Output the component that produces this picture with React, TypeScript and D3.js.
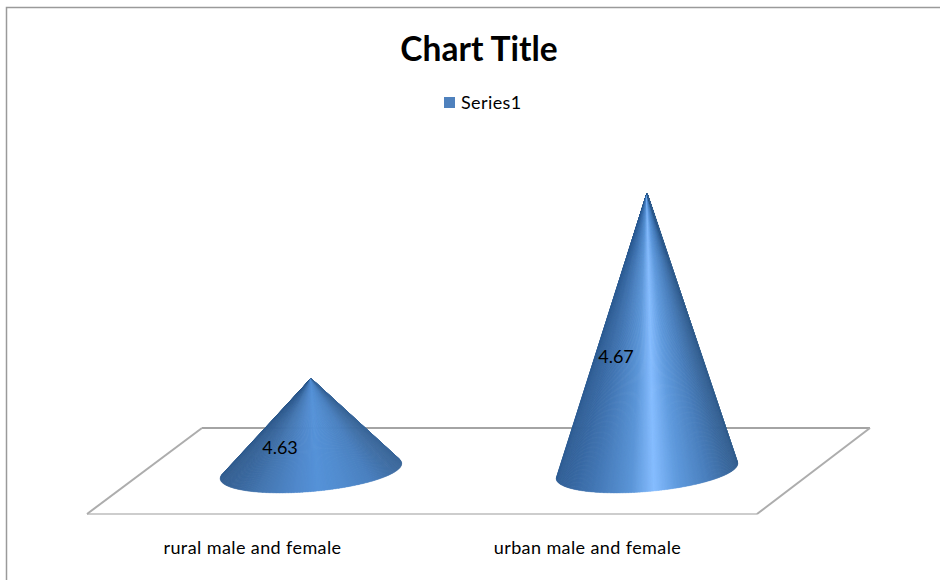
import * as d3 from "d3";

const categories = ["rural male and female", "urban male and female"];
const values = [4.63, 4.67];
const valueLabels = ["4.63", "4.67"];
const seriesName = "Series1";
const chartTitle = "Chart Title";

const W = 940;
const H = 580;
const FONT = "Lato, Carlito, 'Open Sans', sans-serif";

// floor of the 3d plot
const floorPath = { fl: 87, fr: 757, bl: 202, br: 870, front: 514, back: 428 };
const baseY = 471;

// cone base is a tilted ellipse
const rx = 91;
const ry = 20.5;
const tilt = (-5 * Math.PI) / 180;

const xScale = d3.scaleBand<string>().domain(categories).range([143, 815]);
const xFront = d3.scaleBand<string>().domain(categories).range([85, 755]);
const yScale = d3.scaleLinear().domain([4.61, 4.67]).range([baseY, 193]);

// shading around the cone, -1 is the left edge and 1 the right edge
const shadeStops = [-1, -0.6, -0.2, 0.05, 0.3, 0.65, 1];
const shadeColors = [
  ["#345f92", "#4476b0", "#5088cb", "#5592d8", "#528dd0", "#4a80bf", "#3a6699"],
  ["#315f96", "#4478b6", "#5c96d8", "#86bdff", "#619cdf", "#4a7fbd", "#345f90"],
];

const coneSlices = (cx: number, apexY: number, colorIdx: number) => {
  const color = d3
    .scaleLinear<string>()
    .domain(shadeStops)
    .range(shadeColors[colorIdx])
    .interpolate(d3.interpolateRgb);
  const line = d3.line();
  const step = (2 * Math.PI) / 360;
  // only the part facing us, out to where the side meets the rim
  const over = Math.asin(ry / (baseY - apexY));
  const pt = (a: number): [number, number] => [
    cx + rx * Math.cos(a) * Math.cos(tilt) - ry * Math.sin(a) * Math.sin(tilt),
    baseY + rx * Math.cos(a) * Math.sin(tilt) + ry * Math.sin(a) * Math.cos(tilt),
  ];
  return d3.range(Math.PI + over, -over, -step).map((t) => ({
    d: line([[cx, apexY], pt(t), pt(Math.max(t - step * 1.6, -over))]) + "Z",
    fill: color(Math.cos(t)),
  }));
};

export default function App() {
  const f = floorPath;
  return (
    <svg
      width={W}
      height={H}
      style={{ position: "absolute", left: 0, top: 0, display: "block" }}
      fontFamily={FONT}
    >
      <rect x={0} y={0} width={W} height={H} fill="#ffffff" />
      <path d={`M6.5,${H}V7.5H${W}`} fill="none" stroke="#9a9a9a" strokeWidth={1.5} />

      <text x={479} y={61} textAnchor="middle" fontSize={33.5} fontWeight={700} fill="#000">
        {chartTitle}
      </text>

      <rect x={444} y={97} width={11} height={11} fill="#4f81bd" />
      <text x={461} y={109} fontSize={18} letterSpacing={0.4} fill="#000">
        {seriesName}
      </text>

      <line x1={f.bl} y1={f.back} x2={f.br} y2={f.back} stroke="#868686" strokeWidth={1.5} />
      <line x1={f.fl} y1={f.front} x2={f.fr} y2={f.front} stroke="#bdbdbd" strokeWidth={1.5} />
      <line x1={f.fl} y1={f.front} x2={f.bl} y2={f.back} stroke="#adadad" strokeWidth={2} />
      <line x1={f.fr} y1={f.front} x2={f.br} y2={f.back} stroke="#adadad" strokeWidth={2} />

      {categories.map((c, i) => {
        const cx = (xScale(c) as number) + xScale.bandwidth() / 2;
        const apexY = yScale(values[i]);
        return (
          <g key={c}>
            {coneSlices(cx, apexY, i).map((s, j) => (
              <path key={j} d={s.d} fill={s.fill} stroke={s.fill} strokeWidth={0.3} />
            ))}
          </g>
        );
      })}

      {categories.map((c, i) => (
        <text
          key={c}
          x={(xScale(c) as number) + xScale.bandwidth() / 2 - 31}
          y={yScale(values[i]) + (i === 0 ? 76 : 170)}
          textAnchor="middle"
          fontSize={18}
          fill="#000"
        >
          {valueLabels[i]}
        </text>
      ))}

      {categories.map((c) => (
        <text
          key={c}
          x={(xFront(c) as number) + xFront.bandwidth() / 2}
          y={554}
          textAnchor="middle"
          fontSize={18}
          letterSpacing={0.4}
          fill="#000"
        >
          {c}
        </text>
      ))}
    </svg>
  );
}
